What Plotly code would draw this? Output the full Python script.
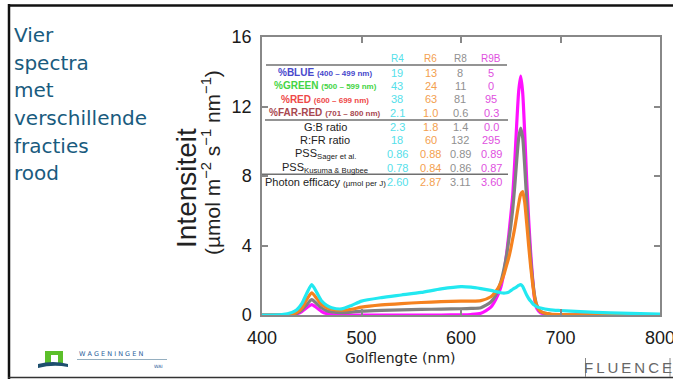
import plotly.graph_objects as go

# ---------------- data ----------------
wavelength = [400, 420, 430, 435, 440, 445, 450, 455, 460, 465, 470, 480, 490, 500, 520, 540, 560, 580,
              600, 610, 620, 630, 635, 640, 643, 646, 648, 650, 652, 654, 656, 658, 660, 662, 664, 666,
              668, 670, 672, 674, 676, 680, 690, 700, 720, 750, 800]

r4 = [0, 0.03, 0.15, 0.3, 0.65, 1.25, 1.75, 1.3, 0.8, 0.55, 0.42, 0.35, 0.55, 0.8, 1.0, 1.15, 1.3, 1.5,
      1.63, 1.6, 1.52, 1.42, 1.35, 1.28, 1.26, 1.28, 1.32, 1.4, 1.48, 1.55, 1.62, 1.7, 1.75, 1.65, 1.4, 1.15,
      0.95, 0.8, 0.66, 0.56, 0.48, 0.4, 0.3, 0.26, 0.19, 0.12, 0.05]

r6 = [0, 0, 0.05, 0.15, 0.4, 0.9, 1.28, 0.95, 0.6, 0.42, 0.33, 0.28, 0.33, 0.45, 0.58, 0.66, 0.72, 0.77,
      0.8, 0.8, 0.83, 1.05, 1.35, 1.85, 2.3, 2.9, 3.3, 3.8, 4.4, 5.0, 5.7, 6.4, 6.95, 7.1, 6.5, 5.3,
      4.0, 2.8, 1.8, 1.0, 0.55, 0.2, 0.05, 0.02, 0.01, 0, 0]

r8 = [0, 0, 0.03, 0.1, 0.28, 0.6, 0.88, 0.65, 0.4, 0.25, 0.18, 0.14, 0.17, 0.22, 0.27, 0.3, 0.32, 0.34,
      0.36, 0.38, 0.42, 0.75, 1.15, 1.9, 2.6, 3.5, 4.3, 5.1, 6.1, 7.4, 8.9, 10.2, 10.75, 10.2, 8.6, 6.6,
      4.8, 3.2, 2.0, 1.1, 0.6, 0.2, 0.04, 0.01, 0, 0, 0]

r9b = [0, 0, 0.02, 0.07, 0.2, 0.42, 0.6, 0.42, 0.2, 0.08, 0.03, 0.01, 0, 0, 0, 0, 0, 0,
       0.01, 0.03, 0.1, 0.45, 0.9, 1.6, 2.4, 3.6, 4.6, 5.7, 6.9, 8.8, 11.0, 12.9, 13.75, 12.8, 10.5, 7.8,
       5.5, 3.6, 2.1, 0.9, 0.4, 0.12, 0.02, 0, 0, 0, 0]

x_ticks = [400, 500, 600, 700, 800]
y_ticks = [0, 4, 8, 12, 16]

series_names = ["R4", "R6", "R8", "R9B"]
row_labels = [
    "<b>%BLUE <span style='font-size:8px'>(400 – 499 nm)</span></b>",
    "<b>%GREEN <span style='font-size:8px'>(500 – 599 nm)</span></b>",
    "<b>%RED <span style='font-size:8px'>(600 – 699 nm)</span></b>",
    "<b>%FAR-RED <span style='font-size:8px'>(701 – 800 nm)</span></b>",
    "G:B ratio",
    "R:FR ratio",
    "PSS<sub>Sager et al.</sub>",
    "PSS<sub>Kusuma &amp; Bugbee</sub>",
    "Photon efficacy <span style='font-size:8px'>(µmol per J)</span>",
]
pct_blue = ["19", "13", "8", "5"]
pct_green = ["43", "24", "11", "0"]
pct_red = ["38", "63", "81", "95"]
pct_farred = ["2.1", "1.0", "0.6", "0.3"]
gb_ratio = ["2.3", "1.8", "1.4", "0.0"]
rfr_ratio = ["18", "60", "132", "295"]
pss_sager = ["0.86", "0.88", "0.89", "0.89"]
pss_kusuma = ["0.78", "0.84", "0.86", "0.87"]
photon_efficacy = ["2.60", "2.87", "3.11", "3.60"]
table_values = [pct_blue, pct_green, pct_red, pct_farred, gb_ratio, rfr_ratio,
                pss_sager, pss_kusuma, photon_efficacy]

slide_lines = ["Vier", "spectra", "met", "verschillende", "fracties", "rood"]

# ---------------- styles ----------------
W, H = 673, 379
line_colors = ["#22e8f0", "#f5821f", "#808080", "#ff10ff"]
value_colors = ["#55e0ea", "#f3a050", "#909090", "#e050e0"]
label_colors = ["#4848cc", "#44d444", "#ee4848", "#a84850", "#222", "#222", "#222", "#222", "#222"]
label_sizes = [10, 10, 10, 10, 11, 11, 11, 11, 11]


def px(x):
    return x / W


def py(y):
    return 1 - y / H


fig = go.Figure()
traces = [(r9b, 3), (r8, 2), (r6, 1), (r4, 0)]
for vals, i in traces:
    fig.add_trace(go.Scatter(x=wavelength, y=vals, mode="lines", name=series_names[i],
                             line=dict(color=line_colors[i], width=3.2, shape="spline", smoothing=0.6),
                             showlegend=False, hoverinfo="skip"))

annotations = []
shapes = []

# left slide text
slide_y = [35, 62.5, 90, 118, 146, 173]
for t, yy in zip(slide_lines, slide_y):
    annotations.append(dict(text=t, x=px(12), y=py(yy), xref="paper", yref="paper",
                            xanchor="left", yanchor="middle", showarrow=False,
                            font=dict(family="DejaVu Sans", size=20, color="#195b7e")))

# y-axis titles
annotations.append(dict(text="Intensiteit", x=px(186), y=py(188), xref="paper", yref="paper",
                        textangle=-90, showarrow=False, xanchor="center", yanchor="middle",
                        font=dict(family="Liberation Sans", size=28, color="#222")))
annotations.append(dict(text="(µmol m<sup>−2</sup> s<sup>−1</sup> nm<sup>−1</sup>)", x=px(211), y=py(163),
                        xref="paper", yref="paper", textangle=-90, showarrow=False,
                        xanchor="center", yanchor="middle",
                        font=dict(family="Liberation Sans", size=21, color="#222")))
# x-axis title
annotations.append(dict(text="Golflengte (nm)", x=px(400), y=py(358), xref="paper", yref="paper",
                        showarrow=False, xanchor="center", yanchor="middle",
                        font=dict(family="DejaVu Sans", size=14, color="#222")))

# table
col_x = [397, 431, 460, 491]
header_y = 59
row_y = [72.7, 86, 99.3, 112.7, 127.3, 140, 154, 167.7, 181.7]
for name, cx, c in zip(series_names, col_x, value_colors):
    annotations.append(dict(text=name, x=px(cx), y=py(header_y), xref="paper", yref="paper",
                            showarrow=False, xanchor="center", yanchor="middle",
                            font=dict(family="Liberation Sans", size=10, color=c)))
for lbl, ry, lc, ls, vals in zip(row_labels, row_y, label_colors, label_sizes, table_values):
    annotations.append(dict(text=lbl, x=px(325), y=py(ry), xref="paper", yref="paper",
                            showarrow=False, xanchor="center", yanchor="middle",
                            font=dict(family="Liberation Sans", size=ls, color=lc)))
    for v, cx, c in zip(vals, col_x, value_colors):
        annotations.append(dict(text=v, x=px(cx), y=py(ry), xref="paper", yref="paper",
                                showarrow=False, xanchor="center", yanchor="middle",
                                font=dict(family="Liberation Sans", size=11, color=c)))
for (x0, x1, yy) in [(266, 507, 65), (265, 508, 120), (262, 508, 174.3)]:
    shapes.append(dict(type="line", xref="paper", yref="paper", x0=px(x0), x1=px(x1),
                       y0=py(yy), y1=py(yy), line=dict(color="#707070", width=1.5)))

# slide border
shapes.append(dict(type="line", xref="paper", yref="paper", x0=px(9), x1=px(9), y0=py(4), y1=py(379),
                   line=dict(color="#111", width=2.5)))
shapes.append(dict(type="line", xref="paper", yref="paper", x0=px(8), x1=px(673), y0=py(5.5), y1=py(5.5),
                   line=dict(color="#111", width=2.5)))
shapes.append(dict(type="line", xref="paper", yref="paper", x0=px(8), x1=px(673), y0=py(377.5), y1=py(377.5),
                   line=dict(color="#333", width=1.5)))

# Wageningen logo
shapes.append(dict(type="rect", xref="paper", yref="paper", x0=px(45), x1=px(63), y0=py(363), y1=py(351),
                   line=dict(width=0), fillcolor="#5cbf2a"))
shapes.append(dict(type="rect", xref="paper", yref="paper", x0=px(51), x1=px(58), y0=py(363), y1=py(355),
                   line=dict(width=0), fillcolor="white"))
shapes.append(dict(type="path", xref="paper", yref="paper",
                   path=f"M {px(38)} {py(364)} Q {px(53)} {py(360)} {px(68)} {py(364)} L {px(68)} {py(367)} Q {px(53)} {py(364)} {px(38)} {py(368)} Z",
                   line=dict(width=0), fillcolor="#1e4f6e"))
shapes.append(dict(type="line", xref="paper", yref="paper", x0=px(77), x1=px(167), y0=py(359.5), y1=py(359.5),
                   line=dict(color="#7a9ab0", width=0.8)))
annotations.append(dict(text="W A G E N I N G E N", x=px(77), y=py(354), xref="paper", yref="paper",
                        showarrow=False, xanchor="left", yanchor="middle",
                        font=dict(family="DejaVu Sans", size=6.5, color="#2a5d9a")))
annotations.append(dict(text="WAI", x=px(165), y=py(366), xref="paper", yref="paper",
                        showarrow=False, xanchor="right", yanchor="middle",
                        font=dict(family="DejaVu Sans", size=4.5, color="#2a5d9a")))

# Fluence logo
annotations.append(dict(text="F\u2009L\u2009U\u2009E\u2009N\u2009C\u2009E", x=px(628), y=py(367), xref="paper", yref="paper",
                        showarrow=False, xanchor="center", yanchor="middle",
                        font=dict(family="Liberation Sans", size=15, color="#666")))
for xx in (585.5, 670):
    shapes.append(dict(type="line", xref="paper", yref="paper", x0=px(xx), x1=px(xx), y0=py(358), y1=py(377),
                       line=dict(color="#888", width=1)))

axis_common = dict(showgrid=False, zeroline=False, showline=True, mirror="ticks", automargin=False,
                   linecolor="#888", linewidth=1.5, ticks="inside", ticklen=6, tickwidth=1.5,
                   tickcolor="#888", ticklabeloverflow="allow",
                   tickfont=dict(family="Liberation Sans", size=18, color="#1a1a1a"))

fig.update_layout(
    width=W, height=H, margin=dict(l=0, r=0, t=0, b=0, autoexpand=False),
    paper_bgcolor="white", plot_bgcolor="white",
    xaxis=dict(domain=[px(262), px(660)], range=[400, 800], tickvals=x_ticks,
               ticklabelstandoff=6, **axis_common),
    yaxis=dict(domain=[py(315), py(37)], range=[0, 16], tickvals=y_ticks,
               ticklabelstandoff=5, **axis_common),
    annotations=annotations, shapes=shapes,
)

fig.write_html("out.html", config={"displayModeBar": False},
               post_script="document.body.style.margin='0';document.body.style.padding='0';"
                           "document.body.style.overflow='hidden';")
